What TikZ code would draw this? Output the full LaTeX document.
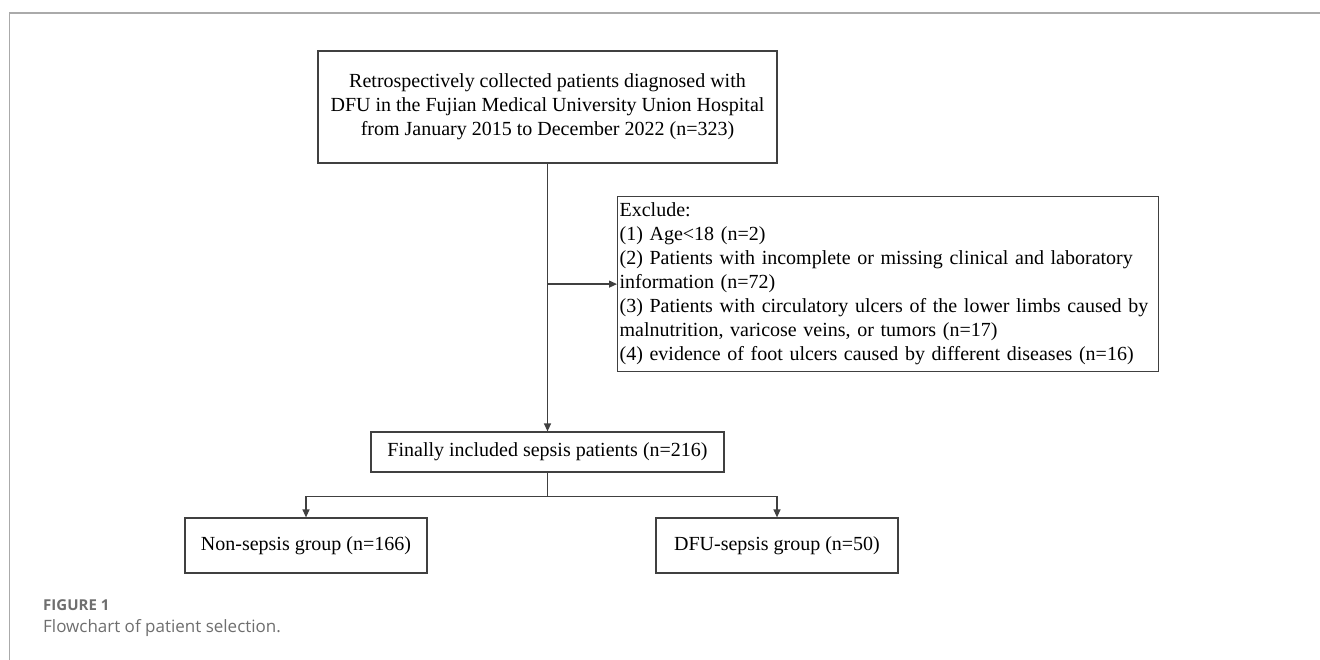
\documentclass[tikz,border=0pt]{standalone}
\usepackage{fontspec}
\setmainfont{Liberation Serif}
\newfontfamily\capfont{Open Sans}
\usetikzlibrary{positioning,arrows.meta,calc}
\definecolor{framegray}{RGB}{170,170,170}
\definecolor{boxline}{RGB}{64,64,64}
\definecolor{capgray}{RGB}{110,110,110}

\begin{document}
\begin{tikzpicture}[x=1pt, y=-1pt,
  font=\fontsize{20}{24}\selectfont,
  box/.style={draw=boxline, line width=1.2pt, inner sep=0pt, align=center},
  flow/.style={-{Triangle[length=8pt, width=7pt]}, draw=boxline, line width=1.2pt},
  captext/.style={anchor=west, inner sep=0pt, text=capgray}
]
\useasboundingbox (0,0) rectangle (1320,660);
% outer frame
\draw[framegray, line width=1.5pt] (9.5,660) -- (9.5,13) -- (1320,13);
% boxes
\node[box, minimum width=459pt, minimum height=112pt] (pool) at (547.5,107)
  {Retrospectively collected patients diagnosed with\\DFU in the Fujian Medical University Union Hospital\\from January 2015 to December 2022 (n=323)};
\node[box, anchor=north west, minimum height=175pt, text width=537pt, align=left, inner xsep=2pt] (excl) at (617,196)
  {Exclude:\\(1) Age<18 (n=2)\\(2) Patients with incomplete or missing clinical and laboratory\\information (n=72)\\(3) Patients with circulatory ulcers of the lower limbs caused by\\malnutrition, varicose veins, or tumors (n=17)\\(4) evidence of foot ulcers caused by different diseases (n=16)};
\node[box, minimum width=353pt, minimum height=40pt] (final) at (547.5,452) {Finally included sepsis patients (n=216)};
\node[box, minimum width=242pt, minimum height=55pt] (nonsep) at (306,545.5) {Non-sepsis group (n=166)};
\node[box, minimum width=242pt, minimum height=55pt] (dfusep) at (777,545.5) {DFU-sepsis group (n=50)};
% connectors
\coordinate (branch) at (pool.south |- excl.west);
\coordinate (split) at ($(final.south)+(0,24)$);
\draw[flow] (pool) -- (final);
\draw[flow] (branch) -- (excl.west);
\draw[boxline, line width=1.2pt] (final.south) -- (split);
\draw[flow] (split) -| (nonsep.north);
\draw[flow] (split) -| (dfusep.north);
% caption
\node[captext, font=\capfont\bfseries\fontsize{15}{18}\selectfont] (fignum) at (43,605) {FIGURE 1};
\node[captext, font=\capfont\fontsize{17}{20}\selectfont] (figtitle) at (43,628) {Flowchart of patient selection.};
\end{tikzpicture}
\end{document}
